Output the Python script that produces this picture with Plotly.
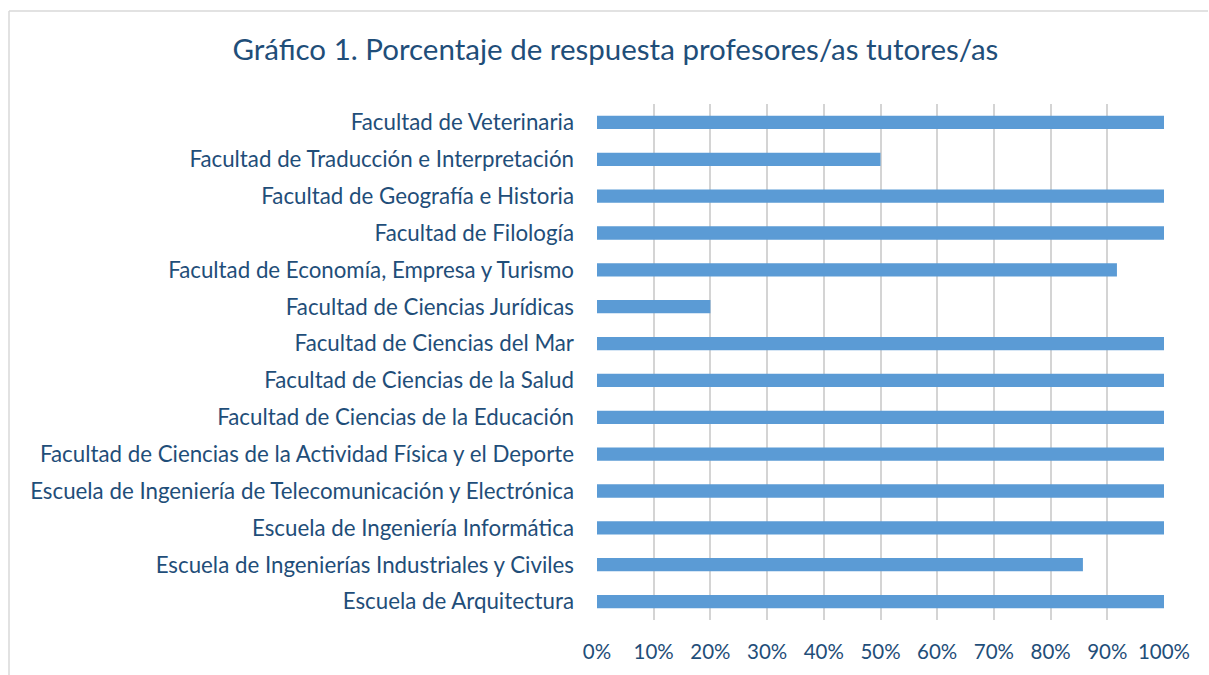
import plotly.graph_objects as go

categories = [
    "Escuela de Arquitectura",
    "Escuela de Ingenierías Industriales y Civiles",
    "Escuela de Ingeniería Informática",
    "Escuela de Ingeniería de Telecomunicación y Electrónica",
    "Facultad de Ciencias de la Actividad Física y el Deporte",
    "Facultad de Ciencias de la Educación",
    "Facultad de Ciencias de la Salud",
    "Facultad de Ciencias del Mar",
    "Facultad de Ciencias Jurídicas",
    "Facultad de Economía, Empresa y Turismo",
    "Facultad de Filología",
    "Facultad de Geografía e Historia",
    "Facultad de Traducción e Interpretación",
    "Facultad de Veterinaria",
]
values = [1.0, 0.857, 1.0, 1.0, 1.0, 1.0, 1.0, 1.0, 0.2, 0.917, 1.0, 1.0, 0.5, 1.0]
tick_vals = [i / 10 for i in range(11)]
tick_text = [f"{i*10}%" for i in range(11)]

TXT = "#1f4e79"
FONT = "Lato"

fig = go.Figure(go.Bar(
    x=values, y=categories, orientation="h",
    marker=dict(color="#5b9bd5", line=dict(width=0)),
    width=0.36,
))

L, R, T, B = 597, 45, 104, 55
W, H = 1209, 675
pw = W - L - R
ph = H - T - B

fig.update_layout(
    width=W, height=H,
    margin=dict(l=L, r=R, t=T, b=B),
    paper_bgcolor="white", plot_bgcolor="white",
    font=dict(family=FONT, color=TXT, size=22.3),
    title=dict(text="Gráfico 1. Porcentaje de respuesta profesores/as tutores/as",
               x=0.509, xanchor="center", y=1 - 50 / H, yanchor="middle",
               font=dict(size=29.5, color=TXT, family=FONT)),
    showlegend=False,
    bargap=0.64,
)
fig.update_xaxes(range=[0, 1], tickvals=tick_vals, ticktext=tick_text,
                 showgrid=True, gridcolor="#d4d4d4", gridwidth=2,
                 zeroline=False, showline=False, ticks="",
                 ticklabelstandoff=17, tickfont=dict(size=20.5, color=TXT))
fig.update_yaxes(categoryorder="array", categoryarray=categories,
                 showgrid=False, zeroline=False, showline=False, ticks="",
                 ticklabelstandoff=22, tickfont=dict(size=22.3, color=TXT))

# chart border (top and left edges visible)
x0 = (9 - L) / pw
x1 = (1208 - L) / pw
ytop = 1 + (T - 11) / ph
ybot = -(H - T - ph) / ph - 0.02
fig.add_shape(type="line", xref="paper", yref="paper", x0=x0, x1=x1, y0=ytop, y1=ytop,
              line=dict(color="#d9d9d9", width=1.5))
fig.add_shape(type="line", xref="paper", yref="paper", x0=x0, x1=x0, y0=ytop, y1=ybot,
              line=dict(color="#d9d9d9", width=1.5))

fig.write_html("out.html", config={"displayModeBar": False},
               post_script="document.body.style.margin='0';document.body.style.overflow='hidden';")
